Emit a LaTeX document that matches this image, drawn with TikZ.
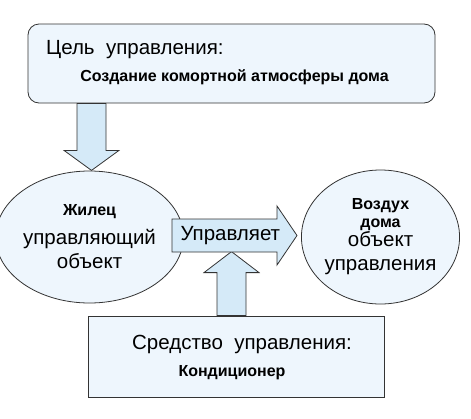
\documentclass[tikz,border=0pt]{standalone}
\usepackage{fontspec}
\setmainfont{Liberation Sans}
\usepackage{xcolor}
\usepackage{tikz}
\usetikzlibrary{shapes.geometric}

\definecolor{boxfill}{HTML}{EEF6FD}
\definecolor{arrowfill}{HTML}{D5EAF8}
\definecolor{edge}{HTML}{333333}
\newcommand{\boldsmall}{\fontsize{16}{19}\selectfont\bfseries}

\begin{document}
\begin{tikzpicture}[x=1pt, y=1pt,
  plain/.style={font=\fontsize{20.5}{24}\selectfont},
  strong/.style={font=\boldsmall},
  goalbox/.style={rectangle, draw=edge, thick, fill=boxfill, rounded corners=11pt, minimum width=407pt, minimum height=79pt},
  meansbox/.style={rectangle, draw=edge, thick, fill=boxfill, minimum width=296pt, minimum height=81pt},
  actor/.style={ellipse, draw=edge, thick, fill=boxfill, inner sep=0pt, align=center, font=\fontsize{20.5}{24}\selectfont},
  arrowline/.style={draw=edge, thick, fill=arrowfill, line join=miter},
  % length : shaft half : head half : head length
  pics/fatarrow/.style n args={4}{code={
    \path[arrowline] (0,#2) -- ({#1-#4},#2) -- ({#1-#4},#3) -- (#1,0)
      -- ({#1-#4},-#3) -- ({#1-#4},-#2) -- (0,-#2) -- cycle;}}]
\useasboundingbox (0,0) rectangle (471,-418);

% boxes
\node[goalbox] (goal) at (231.5,-63.5) {};
\node[plain, anchor=west] (goaltitle) at ([xshift=15pt,yshift=-26pt]goal.north west) {Цель\ \ управления:};
\node[strong] (goaltext) at ([xshift=3pt,yshift=-54pt]goal.north) {Создание комортной атмосферы дома};

\node[meansbox] (means) at (236,-356.5) {};
\node[plain] (meanstitle) at ([xshift=6pt,yshift=-29pt]means.north) {Средство\ \ управления:};
\node[strong] (meanstext) at ([xshift=-4pt,yshift=-57pt]means.north) {Кондиционер};

% ellipses
\node[actor, minimum width=151pt, minimum height=132pt] (manager) at (89.5,-237)
  {{\boldsmall Жилец}\\[5pt] управляющий\\ объект};
\node[actor, minimum width=155pt, minimum height=134pt] (target) at (380.5,-237)
  {{\boldsmall Воздух}\\[-6pt] {\boldsmall дома}\\[-5pt] объект\\ управления};

% fat arrows
\coordinate (goaltail) at (goal.south -| 91.5,0);
\coordinate (meanstail) at (means.north -| 231.5,0);
\coordinate (ctrltail) at (172,-235.5);
\pic[rotate=-90] at (goaltail) {fatarrow={67}{14.5}{27.5}{20}};
\pic[rotate=90] at (meanstail) {fatarrow={64}{14.5}{27.5}{21}};
\pic at (ctrltail) {fatarrow={125}{16.5}{29.5}{20}};
\node[plain, anchor=west] (controls) at ([xshift=5pt]ctrltail) {Управляет};
\end{tikzpicture}
\end{document}
